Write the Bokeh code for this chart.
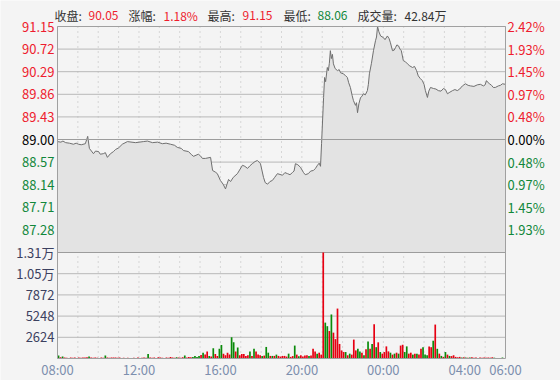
from bokeh.plotting import figure
from bokeh.models import Range1d, ColumnDataSource
from bokeh.core.properties import value
from bokeh.embed import file_html
from bokeh.resources import INLINE

# ---------------- data ----------------
price_times = ["08:00","08:10","08:16","08:24","08:35","08:47","08:55","09:02","09:10","09:22",
               "09:29","09:34","09:46","09:52","10:01","10:06","10:15","10:21","10:27","10:36",
               "10:45","10:51","11:00","11:11","11:26","11:50","12:13","12:25","12:40","12:55",
               "13:09","13:20","13:33","13:45","13:53","14:05","14:11","14:26","14:35","14:41",
               "14:55","15:01","15:07","15:16","15:31","15:37","15:45","15:51","16:00","16:08",
               "16:15","16:19","16:24","16:30","16:38","16:50","17:05","17:12","17:20","17:27",
               "17:34","17:42","17:49","17:58","18:07","18:12","18:19","18:26","18:33","18:40",
               "18:48","19:03","19:10","19:18","19:25","19:32","19:37","19:41","19:48","19:56",
               "20:05","20:10","20:19","20:26","20:34","20:40","20:46","20:51","20:55","20:58",
               "21:04","21:07","21:10","21:15","21:18","21:21","21:24","21:27","21:30","21:33",
               "21:38","21:45","21:50","21:54","22:02","22:08","22:14","22:18","22:23","22:28",
               "22:32","22:38","22:41","22:44","22:48","22:53","22:57","23:01","23:07","23:13",
               "23:16","23:19","23:25","23:31","23:37","23:40","23:43","23:47","23:52","00:00",
               "00:05","00:12","00:17","00:21","00:27","00:32","00:36","00:40","00:45","00:49",
               "00:53","00:59","01:05","01:11","01:18","01:26","01:32","01:38","01:43","01:49",
               "01:55","02:00","02:04","02:10","02:14","02:19","02:28","02:35","02:42","02:50",
               "02:57","03:03","03:09","03:16","03:24","03:31","03:38","03:45","03:53","04:02",
               "04:10","04:17","04:27","04:37","04:46","04:55","05:00","05:04","05:09","05:13",
               "05:19","05:24","05:30","05:39","05:45","05:51","06:00"]
price_values = [88.96,88.95,88.97,88.94,88.93,88.91,88.93,88.91,88.90,88.92,
                89.06,88.83,88.73,88.78,88.77,88.72,88.73,88.75,88.66,88.73,
                88.77,88.81,88.84,88.91,88.96,88.94,88.96,88.97,88.94,88.95,
                88.92,88.93,88.91,88.89,88.85,88.83,88.79,88.77,88.71,88.68,
                88.72,88.69,88.64,88.64,88.66,88.41,88.38,88.35,88.22,88.15,
                88.06,88.14,88.24,88.20,88.28,88.35,88.51,88.49,88.45,88.50,
                88.54,88.58,88.60,88.54,88.28,88.18,88.15,88.20,88.22,88.28,
                88.35,88.32,88.37,88.35,88.33,88.37,88.40,88.54,88.52,88.47,
                88.37,88.33,88.35,88.40,88.41,88.45,88.51,88.55,88.49,88.92,
                89.80,90.18,90.10,90.37,90.31,90.45,90.69,90.54,90.62,90.44,
                90.35,90.31,90.33,90.27,90.25,90.22,90.18,90.08,89.99,89.84,
                89.74,89.65,89.70,89.51,89.68,89.80,89.82,89.87,89.85,89.93,
                90.05,90.25,90.45,90.69,90.88,90.95,91.15,91.05,90.97,90.94,
                90.90,90.97,90.92,90.84,90.69,90.70,90.75,90.80,90.78,90.72,
                90.69,90.50,90.48,90.44,90.40,90.37,90.39,90.31,90.21,90.16,
                90.12,90.05,89.93,89.80,89.92,89.99,89.97,89.96,89.93,89.92,
                89.97,89.95,89.87,89.90,89.93,89.95,89.93,89.96,90.02,90.06,
                90.03,90.02,90.01,90.04,90.05,90.02,90.04,90.12,90.08,90.06,
                90.03,89.99,89.99,90.02,90.03,90.06,90.05]

# volume in 6-minute bins from 08:00 to 06:00 (220 bins); r = up bar, g = down bar
volumes = [360,150,240,120,100,0,120,100,120,0,
           120,100,130,120,150,240,120,100,120,100,
           0,120,100,360,120,100,120,110,120,100,
           120,0,100,0,100,0,0,100,0,120,
           0,100,120,100,560,120,100,120,0,150,
           120,100,0,120,100,200,120,100,150,120,
           100,150,360,120,200,150,200,300,200,320,
           440,720,480,880,300,250,1270,560,300,1200,
           1670,600,400,720,500,2624,2000,880,1350,400,
           560,560,300,400,880,300,1200,880,480,400,
           300,360,1430,720,320,320,320,480,320,240,
           320,320,240,600,200,300,1600,480,280,400,
           240,360,400,300,360,1200,880,600,720,480,
           13120,4440,4000,3400,5450,3200,2400,6180,1800,1000,
           800,800,400,600,480,2340,1000,1200,880,720,
           400,1130,2100,1200,1800,4240,1400,2000,800,600,
           800,1500,880,720,480,600,720,600,1600,1700,
           800,1500,600,720,480,600,600,480,1200,1400,
           480,400,1500,1400,2200,4200,1200,600,320,200,
           800,480,320,300,400,200,150,200,120,150,
           120,100,120,150,100,120,0,120,100,120,
           100,120,100,150,100,0,0,0,120,0]
vol_dirs = ("grgrrrrrrr" "rrrrrgrrrr" "rrrgrrrrrr" "rgrgrrrrrr"
            "rrrrgrrrrr" "rrrrrrrrgr" "rrgrrrgggg" "rgrrgrgrrg"
            "grrrrggrgr" "rrrrgrgrrr" "grggrgrgrr" "rrrgrrgrgr"
            "rrrgrrrgrr" "rggrgrrrrr" "rgrgrrrggr" "grgrgrgrgr"
            "rrrgrgrgrr" "ggrrgrgrrg" "ggrrgrgrgr" "grgrrrrrgr"
            "grgrrrgrrr" "rrrrgrrrgr")

price_ticks = [91.15, 90.72, 90.29, 89.86, 89.43, 89.00, 88.57, 88.14, 87.71, 87.28]
price_tick_labels = ["91.15", "90.72", "90.29", "89.86", "89.43", "89.00", "88.57", "88.14", "87.71", "87.28"]
pct_tick_labels = ["2.42%", "1.93%", "1.45%", "0.97%", "0.48%", "0.00%", "0.48%", "0.97%", "1.45%", "1.93%"]
vol_ticks = [13120, 10496, 7872, 5248, 2624]
vol_tick_labels = ["1.31万", "1.05万", "7872", "5248", "2624"]
time_ticks = ["08:00", "12:00", "16:00", "20:00", "00:00", "04:00", "06:00"]
prev_close = 89.00
price_bottom = 86.85

header_labels = ["收盘:", "涨幅:", "最高:", "最低:", "成交量:"]
header_values = ["90.05", "1.18%", "91.15", "88.06", "42.84万"]

# ---------------- helpers / layout ----------------
def to_min(t):
    h, m = map(int, t.split(":"))
    return (h * 60 + m - 480) % 1440

RED = "#ee1c2e"
GRN = "#11873a"
BLK = "#000000"
FONT = value("Noto Sans CJK SC")
GRID = "#b8b8b8"

W, H = 560, 380
L, R, T, B = 57, 55, 26, 22          # plot box inside the canvas
FW, FH = W - L - R, H - T - B
PRICE_H = 226
x_end = 22 * 60                       # 08:00 -> 06:00 next day
ppx_price = (price_ticks[0] - price_bottom) / PRICE_H
ppx_vol = vol_ticks[0] / (FH - PRICE_H)

def xd(px):
    return (px - L) * x_end / FW

def yd(py):
    return price_ticks[0] - (py - T) * ppx_price

def mins(ts):
    out = [to_min(t) for t in ts]
    if out[-1] == 0 and len(out) > 1:
        out[-1] = x_end
    return out

p = figure(width=W, height=H, output_backend="svg", toolbar_location=None,
           x_range=Range1d(xd(0), xd(W)), y_range=Range1d(yd(H), yd(0)),
           x_axis_location=None, y_axis_location=None,
           min_border=0, min_border_left=0, min_border_right=0,
           min_border_top=0, min_border_bottom=0)
p.extra_y_ranges = {"vol": Range1d(-(H - T - FH) * ppx_vol, (T + FH) * ppx_vol)}
p.background_fill_color = "#f4f4f4"
p.border_fill_color = "#f4f4f4"
p.outline_line_color = None
p.grid.visible = False

y_box_bottom = yd(T + FH)

# vertical dotted hour grid
hours = [60 * k for k in range(1, 22)]
p.segment(x0=hours, x1=hours, y0=[price_ticks[0]] * len(hours), y1=[y_box_bottom] * len(hours),
          line_color=GRID, line_dash="1 4", line_width=1)
# horizontal grids
p.segment(x0=[0] * len(price_ticks), x1=[x_end] * len(price_ticks), y0=price_ticks, y1=price_ticks,
          line_color=GRID, line_width=1)
p.segment(x0=[0] * len(vol_ticks), x1=[x_end] * len(vol_ticks), y0=vol_ticks, y1=vol_ticks,
          line_color=GRID, line_width=1, y_range_name="vol")

# price area + line
xm = mins(price_times)
src = ColumnDataSource(dict(x=xm, y=price_values))
p.varea(x="x", y1=price_bottom, y2="y", source=src, fill_color="#e3e3e3")
p.line(x="x", y="y", source=src, line_color="#6f6f6f", line_width=1)

# reference lines
p.segment(x0=[0, 0], x1=[x_end, x_end], y0=[prev_close, price_bottom], y1=[prev_close, price_bottom],
          line_color="#9c9c9c", line_width=1)

# volume bars
vx = [i * 6 + 3 for i in range(len(volumes))]
vcol = ["#e60012" if d == "r" else "#0a8a0a" for d in vol_dirs]
vsrc = ColumnDataSource(dict(x=vx, top=volumes, c=vcol))
p.vbar(x="x", top="top", width=5, bottom=0, source=vsrc, fill_color="c", line_color=None,
       y_range_name="vol")

# box outline
p.quad(left=[0], right=[x_end], top=[price_ticks[0]], bottom=[y_box_bottom],
       fill_color=None, line_color="#a0a0a0", line_width=1)

# tick labels: price (left), percentage (right)
cols = [RED if v > prev_close else (BLK if v == prev_close else GRN) for v in price_ticks]
n = len(price_ticks)
lsrc = ColumnDataSource(dict(y=price_ticks, t=price_tick_labels, pt=pct_tick_labels, c=cols,
                             xl=[xd(54)] * n, xr=[xd(507)] * n))
p.text(x="xl", y="y", text="t", source=lsrc, text_color="c", text_align="right",
       text_baseline="middle", text_font=FONT, text_font_size="13px")
p.text(x="xr", y="y", text="pt", source=lsrc, text_color="c", text_align="left",
       text_baseline="middle", text_font=FONT, text_font_size="13px")

# volume tick labels
vsrc2 = ColumnDataSource(dict(y=vol_ticks, t=vol_tick_labels, xl=[xd(54)] * len(vol_ticks)))
p.text(x="xl", y="y", text="t", source=vsrc2, y_range_name="vol",
       text_color="#3c4160", text_align="right", text_baseline="middle",
       text_font=FONT, text_font_size="13px")

# time labels
tt = mins(time_ticks)
p.text(x=tt, y=[yd(369)] * len(tt), text=time_ticks, text_color="#7d8fae", text_align="center",
       text_baseline="middle", text_font=FONT, text_font_size="13px")

# header
hx_lab = [54, 128, 207, 283, 357]
hx_val = [88, 163, 242, 317, 404]
hv_col = [RED, RED, RED, GRN, "#333333"]
p.text(x=[xd(v) for v in hx_lab], y=[yd(15)] * 5, text=header_labels, text_color="#333333",
       text_align="left", text_baseline="middle", text_font=FONT, text_font_size="12px")
p.text(x=[xd(v) for v in hx_val], y=[yd(15)] * 5, text=header_values, text_color=hv_col,
       text_align="left", text_baseline="middle", text_font=FONT, text_font_size="12px")

open("out.html", "w").write(file_html(p, INLINE))
